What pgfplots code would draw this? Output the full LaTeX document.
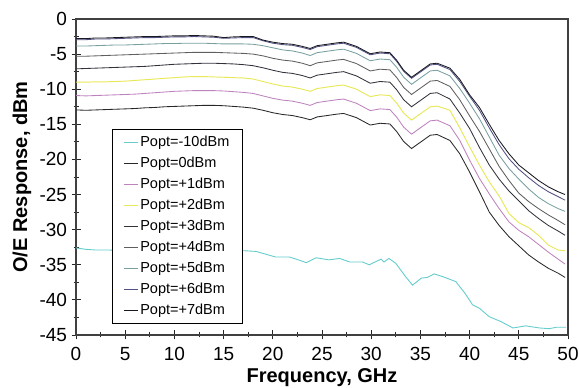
\documentclass[border=0pt]{standalone}
\usepackage{fontspec}
\setmainfont{Liberation Sans}
\usepackage{pgfplots}
\usepackage{pgfplotstable}
\pgfplotsset{compat=1.18}
\definecolor{cA}{RGB}{102,204,204}
\definecolor{cB}{RGB}{40,40,40}
\definecolor{cC}{RGB}{190,130,190}
\definecolor{cD}{RGB}{232,232,90}
\definecolor{cE}{RGB}{50,50,60}
\definecolor{cF}{RGB}{95,95,95}
\definecolor{cG}{RGB}{120,160,160}
\definecolor{cH}{RGB}{80,80,130}
\definecolor{cI}{RGB}{25,25,35}

\pgfplotstableread{
f p7 p6 p5 p4 p3 p2 p1 p0
0 -2.8 -2.95 -3.85 -5.3 -7.1 -9.0 -10.9 -12.95
1 -2.8 -2.95 -3.85 -5.3 -7.05 -9.0 -10.95 -13.0
2 -2.7 -2.85 -3.8 -5.25 -7.0 -8.95 -10.9 -12.95
3 -2.7 -2.85 -3.75 -5.2 -6.95 -8.95 -10.85 -12.9
4 -2.65 -2.8 -3.7 -5.15 -6.9 -8.9 -10.8 -12.85
5 -2.6 -2.75 -3.7 -5.1 -6.85 -8.85 -10.75 -12.8
6 -2.55 -2.7 -3.65 -5.05 -6.8 -8.75 -10.7 -12.75
7 -2.5 -2.65 -3.6 -5.0 -6.75 -8.65 -10.6 -12.65
8 -2.5 -2.65 -3.55 -4.95 -6.65 -8.55 -10.5 -12.6
9 -2.45 -2.6 -3.5 -4.9 -6.55 -8.45 -10.4 -12.5
10 -2.4 -2.55 -3.5 -4.85 -6.45 -8.35 -10.3 -12.45
11 -2.4 -2.55 -3.45 -4.8 -6.4 -8.25 -10.25 -12.4
12 -2.35 -2.5 -3.45 -4.75 -6.35 -8.2 -10.2 -12.35
13 -2.4 -2.55 -3.45 -4.75 -6.3 -8.2 -10.2 -12.3
14 -2.45 -2.6 -3.5 -4.75 -6.3 -8.25 -10.2 -12.3
15 -2.65 -2.75 -3.55 -4.8 -6.35 -8.3 -10.25 -12.35
16 -2.55 -2.7 -3.55 -4.85 -6.4 -8.35 -10.35 -12.45
17 -2.5 -2.65 -3.55 -4.9 -6.5 -8.4 -10.45 -12.55
18 -2.5 -2.65 -3.6 -5.0 -6.65 -8.55 -10.6 -12.7
19 -3.0 -3.1 -3.8 -5.25 -6.95 -8.9 -10.95 -13.0
20 -3.3 -3.45 -4.1 -5.6 -7.3 -9.25 -11.3 -13.35
21 -3.5 -3.65 -4.4 -5.85 -7.6 -9.55 -11.55 -13.6
22 -3.6 -3.75 -4.55 -6.0 -7.75 -9.7 -11.7 -13.75
23 -3.9 -4.05 -4.85 -6.3 -8.05 -10.0 -12.0 -14.05
23.8 -4.2 -4.35 -5.2 -6.65 -8.4 -10.3 -12.3 -14.35
24.5 -3.8 -3.95 -4.8 -6.25 -8.0 -9.9 -11.9 -13.95
25.5 -3.6 -3.75 -4.6 -6.05 -7.8 -9.7 -11.7 -13.75
26.5 -3.4 -3.55 -4.4 -5.85 -7.6 -9.5 -11.5 -13.55
27.2 -3.3 -3.45 -4.3 -5.75 -7.5 -9.4 -11.4 -13.45
28.5 -3.9 -4.05 -4.9 -6.35 -8.1 -10.0 -12.0 -14.05
29.9 -4.95 -5.1 -5.95 -7.4 -9.15 -11.05 -13.05 -15.1
30.9 -4.7 -4.85 -5.7 -7.15 -8.9 -10.8 -12.8 -14.85
31.9 -4.8 -4.95 -5.8 -7.25 -9.0 -10.9 -12.9 -14.95
32.6 -5.9 -6.05 -6.9 -8.35 -10.1 -12.0 -14.0 -16.05
33.3 -7.3 -7.45 -8.3 -9.75 -11.5 -13.4 -15.4 -17.45
34.1 -8.3 -8.45 -9.3 -10.75 -12.5 -14.4 -16.4 -18.45
34.8 -7.6 -7.75 -8.6 -10.05 -11.8 -13.7 -15.7 -17.75
36 -6.4 -6.55 -7.4 -8.85 -10.6 -12.5 -14.5 -16.55
36.7 -6.3 -6.45 -7.3 -8.75 -10.5 -12.4 -14.4 -16.45
38 -7.0 -7.2 -8.1 -9.6 -11.4 -13.0 -15.2 -17.3
39 -8.6 -8.9 -9.9 -11.5 -13.4 -15.5 -17.3 -19.2
40 -10.8 -11.0 -12.0 -13.8 -15.6 -18.2 -20.1 -21.8
41 -12.6 -13.0 -14.2 -16.0 -18.3 -20.8 -22.7 -24.6
42 -15.0 -15.5 -16.8 -18.5 -20.8 -23.2 -24.9 -27.5
43 -17.3 -17.9 -19.4 -21.0 -22.8 -25.2 -27.0 -29.4
44 -19.2 -19.9 -21.3 -23.0 -24.5 -27.7 -28.9 -31.0
45 -20.8 -21.4 -22.8 -24.8 -25.9 -29.0 -30.1 -32.3
46 -21.9 -22.6 -24.2 -26.0 -27.3 -29.7 -31.0 -33.6
47 -23.0 -23.7 -25.4 -27.0 -28.4 -30.8 -32.1 -34.6
48 -23.9 -24.6 -26.3 -27.9 -29.4 -32.2 -33.2 -35.5
49 -24.6 -25.3 -27.0 -28.7 -30.2 -32.9 -34.2 -36.2
49.7 -25.0 -25.8 -27.4 -29.3 -30.8 -33.0 -34.9 -36.8
}\curves

\pgfplotstableread{
f v
0 -32.6
1 -32.8
2 -32.9
3.4 -32.9
5 -33.0
8 -33.0
11 -33.0
14 -33.0
17.1 -33.0
18.3 -33.1
19.3 -33.5
20.3 -33.9
21.7 -33.9
22.6 -34.3
23.4 -34.7
24.4 -34.0
25.7 -34.3
26.8 -34.1
27.8 -34.6
29.1 -34.6
29.8 -35.0
31.0 -34.2
31.3 -34.6
31.8 -34.1
32.5 -34.8
33.5 -36.7
34.2 -37.9
35.1 -36.9
35.7 -36.8
36.4 -36.3
37.3 -36.7
38.6 -37.4
39.5 -39.0
40.3 -40.7
41.0 -41.2
42.0 -42.4
43.2 -43.1
44.4 -44.0
45.7 -43.7
47.1 -44.0
48.1 -44.1
48.8 -43.9
49.8 -43.9
}\tealtab

\begin{document}
\begin{tikzpicture}
\begin{axis}[
  name=ax,
  scale only axis,
  width=492pt, height=316pt,
  xmin=0, xmax=50, ymin=-45, ymax=0,
  xtick={0,5,...,50}, ytick={-45,-40,...,0},
  minor x tick num=1, minor y tick num=1,
  xtick pos=bottom, ytick pos=left,
  tick align=center,
  major tick length=9pt, minor tick length=5pt,
  tick style={black!85, line width=0.8pt},
  axis line style={black!75, line width=1.1pt},
  /pgf/number format/assume math mode=true,
  ticklabel style={font=\fontsize{19}{19}\selectfont},
  xticklabel style={yshift=-4pt},
  yticklabel style={xshift=-1pt},
  xlabel={Frequency, GHz},
  ylabel={O/E Response, dBm},
  label style={font=\bfseries\fontsize{20}{20}\selectfont},
  xlabel style={at={(axis description cs:0.5,-0.136)}, anchor=center},
  ylabel style={at={(axis description cs:-0.1098,0.5)}, anchor=center},
  legend style={at={(rel axis cs:0.0732,0.652)}, anchor=north west,
    draw=black, line width=0.8pt, fill=white,
    font=\fontsize{14.5}{14.5}\selectfont, row sep=5pt,
    inner xsep=11pt, inner ysep=5pt,
    /tikz/every even column/.append style={column sep=3pt}},
  legend cell align=left,
  legend image code/.code={\draw[#1, line width=0.9pt] (3pt,0pt) -- (17pt,0pt);},
  every axis plot/.append style={line width=0.85pt, mark=none},
]
\addplot[cA, line width=0.9pt] table[x=f, y=v]{\tealtab};
\addlegendentry{Popt=-10dBm}
\addplot[cB] table[x=f, y=p0]{\curves};
\addlegendentry{Popt=0dBm}
\addplot[cC] table[x=f, y=p1]{\curves};
\addlegendentry{Popt=+1dBm}
\addplot[cD, line width=0.95pt] table[x=f, y=p2]{\curves};
\addlegendentry{Popt=+2dBm}
\addplot[cE] table[x=f, y=p3]{\curves};
\addlegendentry{Popt=+3dBm}
\addplot[cF] table[x=f, y=p4]{\curves};
\addlegendentry{Popt=+4dBm}
\addplot[cG] table[x=f, y=p5]{\curves};
\addlegendentry{Popt=+5dBm}
\addplot[cH] table[x=f, y=p6]{\curves};
\addlegendentry{Popt=+6dBm}
\addplot[cI] table[x=f, y=p7]{\curves};
\addlegendentry{Popt=+7dBm}
\end{axis}
\pgfresetboundingbox
\path ([shift={(-76pt,-53pt)}]ax.south west) rectangle ([shift={(11pt,19pt)}]ax.north east);
\end{tikzpicture}
\end{document}
